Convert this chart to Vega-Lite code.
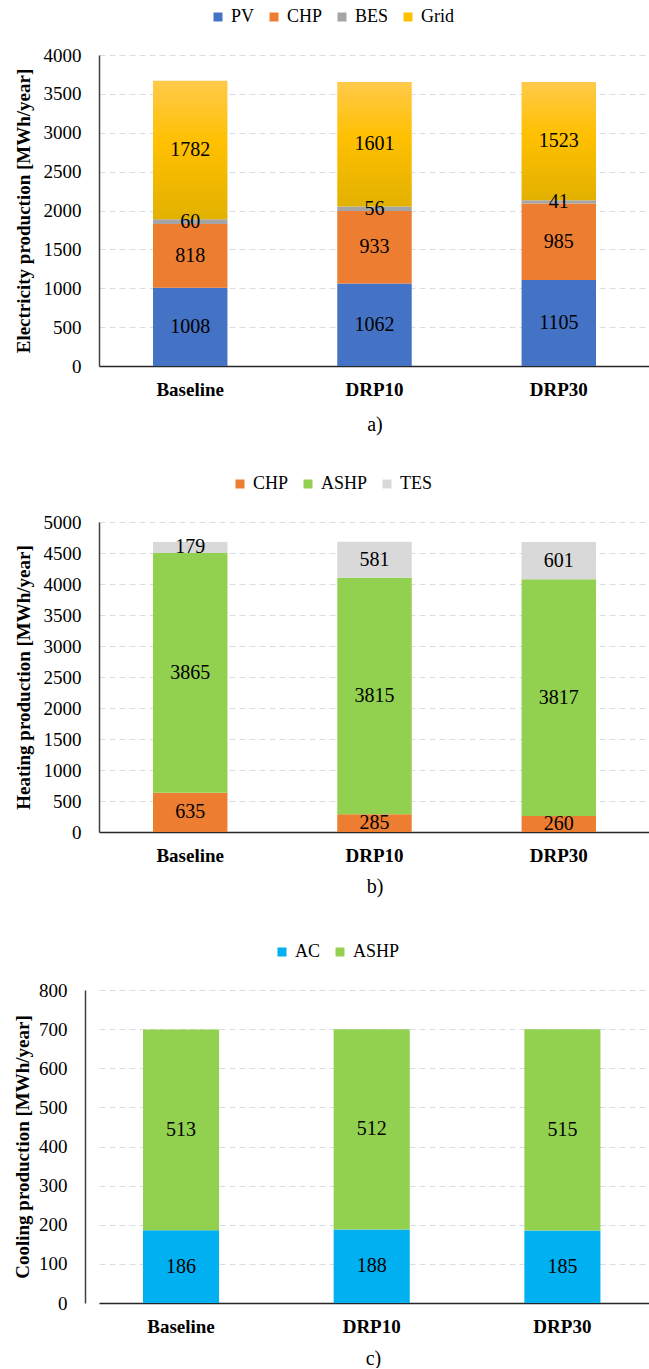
{
  "$schema": "https://vega.github.io/schema/vega-lite/v6.json",
  "background": "white",
  "padding": {"left": 13, "top": 8, "right": 0, "bottom": 0},
  "spacing": 41,
  "columns": 1,
  "align": "none",
  "resolve": {"scale": {"color": "independent", "y": "independent", "x": "independent"}, "legend": {"color": "independent"}},
  "config": {
    "view": {"stroke": null},
    "font": "Liberation Serif",
    "axis": {"labelFont": "Liberation Serif", "titleFont": "Liberation Serif", "ticks": false, "tickSize": 0, "labelColor": "#000000", "titleColor": "#000000"},
    "axisY": {"labelFontSize": 19, "labelPadding": 18, "titleFontSize": 19, "titleFontWeight": "bold", "titlePadding": 10, "domainColor": "#404040", "domainWidth": 1.5, "gridColor": "#D9DCE6", "gridDash": [6, 4], "gridWidth": 1, "format": "d"},
    "axisX": {"labelFontSize": 19, "labelFontWeight": "bold", "labelPadding": 14, "labelAngle": 0, "titleFontSize": 20, "titleFontWeight": "normal", "domainColor": "#262626", "domainWidth": 1.5, "grid": false},
    "legend": {"labelFont": "Liberation Serif", "labelFontSize": 18, "labelColor": "#000000", "symbolType": "square", "symbolSize": 81, "symbolStrokeWidth": 0, "columnPadding": 10, "labelOffset": 4, "direction": "horizontal", "orient": "none"}
  },
  "concat": [
    {
      "width": 551,
      "height": 311,
      "data": {"values": [
        {"scenario": "Baseline", "series": "PV", "o": 1, "value": 1008},
        {"scenario": "Baseline", "series": "CHP", "o": 2, "value": 818},
        {"scenario": "Baseline", "series": "BES", "o": 3, "value": 60},
        {"scenario": "Baseline", "series": "Grid", "o": 4, "value": 1782},
        {"scenario": "DRP10", "series": "PV", "o": 1, "value": 1062},
        {"scenario": "DRP10", "series": "CHP", "o": 2, "value": 933},
        {"scenario": "DRP10", "series": "BES", "o": 3, "value": 56},
        {"scenario": "DRP10", "series": "Grid", "o": 4, "value": 1601},
        {"scenario": "DRP30", "series": "PV", "o": 1, "value": 1105},
        {"scenario": "DRP30", "series": "CHP", "o": 2, "value": 985},
        {"scenario": "DRP30", "series": "BES", "o": 3, "value": 41},
        {"scenario": "DRP30", "series": "Grid", "o": 4, "value": 1523}
      ]},
      "encoding": {
        "x": {"field": "scenario", "type": "nominal", "sort": ["Baseline", "DRP10", "DRP30"], "scale": {"paddingInner": 0.596, "paddingOuter": 0.293}, "axis": {"title": "a)", "titlePadding": 15}},
        "order": {"field": "o", "type": "quantitative"}
      },
      "layer": [
        {
          "mark": {"type": "bar"},
          "encoding": {
            "y": {"field": "value", "type": "quantitative", "stack": "zero", "scale": {"domain": [0, 4000]}, "axis": {"title": "Electricity production [MWh/year]", "values": [0, 500, 1000, 1500, 2000, 2500, 3000, 3500, 4000]}},
            "color": {
              "condition": {"test": "datum.series === 'Grid'", "value": {"gradient": "linear", "x1": 0, "y1": 0, "x2": 0, "y2": 1, "stops": [{"offset": 0, "color": "#FFCA4A"}, {"offset": 0.45, "color": "#FFC000"}, {"offset": 1, "color": "#E2B100"}]}},
              "field": "series", "type": "nominal", "sort": ["PV", "CHP", "BES", "Grid"],
              "scale": {"domain": ["PV", "CHP", "BES", "Grid"], "range": ["#4472C4", "#ED7D31", "#A5A5A5", "#FFC000"]},
              "legend": {"title": null, "legendX": 110, "legendY": -47}
            }
          }
        },
        {
          "mark": {"type": "text", "fontSize": 20, "color": "#000000", "baseline": "middle"},
          "encoding": {
            "y": {"field": "value", "type": "quantitative", "stack": "zero", "bandPosition": 0.5, "axis": {"title": "Electricity production [MWh/year]", "values": [0, 500, 1000, 1500, 2000, 2500, 3000, 3500, 4000]}},
            "detail": {"field": "series", "type": "nominal"},
            "text": {"field": "value", "type": "quantitative"}
          }
        }
      ]
    },
    {
      "spacing": 47,
      "columns": 1,
      "align": "none",
      "resolve": {"scale": {"color": "independent", "y": "independent", "x": "independent"}, "legend": {"color": "independent"}},
      "concat": [
        {
          "width": 551,
          "height": 310,
          "data": {"values": [
            {"scenario": "Baseline", "series": "CHP", "o": 1, "value": 635},
            {"scenario": "Baseline", "series": "ASHP", "o": 2, "value": 3865},
            {"scenario": "Baseline", "series": "TES", "o": 3, "value": 179},
            {"scenario": "DRP10", "series": "CHP", "o": 1, "value": 285},
            {"scenario": "DRP10", "series": "ASHP", "o": 2, "value": 3815},
            {"scenario": "DRP10", "series": "TES", "o": 3, "value": 581},
            {"scenario": "DRP30", "series": "CHP", "o": 1, "value": 260},
            {"scenario": "DRP30", "series": "ASHP", "o": 2, "value": 3817},
            {"scenario": "DRP30", "series": "TES", "o": 3, "value": 601}
          ]},
          "encoding": {
            "x": {"field": "scenario", "type": "nominal", "sort": ["Baseline", "DRP10", "DRP30"], "scale": {"paddingInner": 0.596, "paddingOuter": 0.293}, "axis": {"title": "b)", "titlePadding": 11}},
            "order": {"field": "o", "type": "quantitative"}
          },
          "layer": [
            {
              "mark": {"type": "bar"},
              "encoding": {
                "y": {"field": "value", "type": "quantitative", "stack": "zero", "scale": {"domain": [0, 5000]}, "axis": {"title": "Heating production [MWh/year]", "values": [0, 500, 1000, 1500, 2000, 2500, 3000, 3500, 4000, 4500, 5000]}},
                "color": {
                  "field": "series", "type": "nominal", "sort": ["CHP", "ASHP", "TES"],
                  "scale": {"domain": ["CHP", "ASHP", "TES"], "range": ["#ED7D31", "#92D050", "#D9D9D9"]},
                  "legend": {"title": null, "legendX": 132, "legendY": -47}
                }
              }
            },
            {
              "mark": {"type": "text", "fontSize": 20, "color": "#000000", "baseline": "middle"},
              "encoding": {
                "y": {"field": "value", "type": "quantitative", "stack": "zero", "bandPosition": 0.5, "axis": {"title": "Heating production [MWh/year]", "values": [0, 500, 1000, 1500, 2000, 2500, 3000, 3500, 4000, 4500, 5000]}},
                "detail": {"field": "series", "type": "nominal"},
                "text": {"field": "value", "type": "quantitative"}
              }
            }
          ]
        },
        {
          "width": 565,
          "height": 313,
          "data": {"values": [
            {"scenario": "Baseline", "series": "AC", "o": 1, "value": 186},
            {"scenario": "Baseline", "series": "ASHP", "o": 2, "value": 513},
            {"scenario": "DRP10", "series": "AC", "o": 1, "value": 188},
            {"scenario": "DRP10", "series": "ASHP", "o": 2, "value": 512},
            {"scenario": "DRP30", "series": "AC", "o": 1, "value": 185},
            {"scenario": "DRP30", "series": "ASHP", "o": 2, "value": 515}
          ]},
          "encoding": {
            "x": {"field": "scenario", "type": "nominal", "sort": ["Baseline", "DRP10", "DRP30"], "scale": {"paddingInner": 0.601, "paddingOuter": 0.282, "align": 0.409}, "axis": {"title": "c)", "titlePadding": 12, "titleX": 274, "domain": false}},
            "order": {"field": "o", "type": "quantitative"}
          },
          "layer": [
            {
              "mark": {"type": "bar"},
              "encoding": {
                "y": {"field": "value", "type": "quantitative", "stack": "zero", "scale": {"domain": [0, 800]}, "axis": {"title": "Cooling production [MWh/year]", "titlePadding": 6, "offset": 14, "values": [0, 100, 200, 300, 400, 500, 600, 700, 800], "gridColor": {"condition": {"test": "datum.value === 0", "value": "#262626"}, "value": "#D9DCE6"}, "gridDash": {"condition": {"test": "datum.value === 0", "value": []}, "value": [6, 4]}, "gridWidth": {"condition": {"test": "datum.value === 0", "value": 1.5}, "value": 1}}},
                "color": {
                  "field": "series", "type": "nominal", "sort": ["AC", "ASHP"],
                  "scale": {"domain": ["AC", "ASHP"], "range": ["#00B0F0", "#92D050"]},
                  "legend": {"title": null, "legendX": 174, "legendY": -47}
                }
              }
            },
            {
              "mark": {"type": "text", "fontSize": 20, "color": "#000000", "baseline": "middle"},
              "encoding": {
                "y": {"field": "value", "type": "quantitative", "stack": "zero", "bandPosition": 0.5, "axis": {"title": "Cooling production [MWh/year]", "titlePadding": 6, "offset": 14, "values": [0, 100, 200, 300, 400, 500, 600, 700, 800], "gridColor": {"condition": {"test": "datum.value === 0", "value": "#262626"}, "value": "#D9DCE6"}, "gridDash": {"condition": {"test": "datum.value === 0", "value": []}, "value": [6, 4]}, "gridWidth": {"condition": {"test": "datum.value === 0", "value": 1.5}, "value": 1}}},
                "detail": {"field": "series", "type": "nominal"},
                "text": {"field": "value", "type": "quantitative"}
              }
            }
          ]
        }
      ]
    }
  ]
}
